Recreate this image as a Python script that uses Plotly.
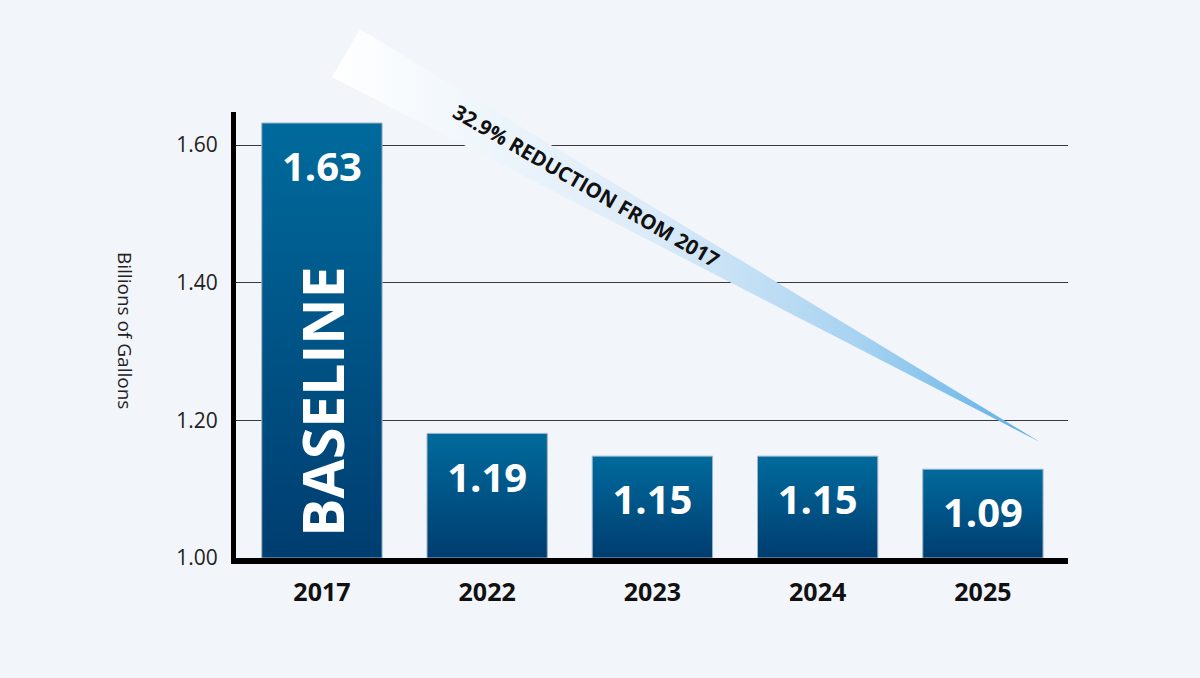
import plotly.graph_objects as go

years = ["2017", "2022", "2023", "2024", "2025"]
bar_heights = [1.632, 1.181, 1.148, 1.148, 1.129]   # bar tops as drawn
bar_labels = ["1.63", "1.19", "1.15", "1.15", "1.09"]
y_ticks = [1.00, 1.20, 1.40, 1.60]
arrow_text = "32.9% REDUCTION FROM 2017"
baseline_text = "BASELINE"

BG = "#f2f5f9"
FONT = "Open Sans"
W, H = 1200, 678
# the page comes out 13px shorter than asked, so ask for a bit more
H_REQ = H + 13
base = 1.0
half_w = 0.364

fig = go.Figure()

# bars as filled rectangles so each gets its own vertical gradient
for i, h in enumerate(bar_heights):
    fig.add_trace(go.Scatter(
        x=[i - half_w, i + half_w, i + half_w, i - half_w, i - half_w],
        y=[base, base, h, h, base],
        mode="lines", fill="toself",
        line=dict(color="#9fb3c9", width=1),
        fillgradient=dict(type="vertical",
                          colorscale=[[0, "#003d70"], [1, "#006a9c"]]),
        hoverinfo="skip", showlegend=False,
    ))

# value labels near the top of each bar
fig.add_trace(go.Scatter(
    x=list(range(len(years))), y=[h - 0.07 for h in bar_heights],
    mode="text", text=bar_labels,
    textfont=dict(family=FONT, size=40, color="white", weight="bold"),
    hoverinfo="skip", showlegend=False,
))

# decorative wedge on a pixel-space overlay
fig.add_trace(go.Scatter(
    x=[360, 1040, 332, 360], y=[29, 442, 77, 29],
    xaxis="x2", yaxis="y2",
    mode="lines", fill="toself", line=dict(width=0, color="rgba(0,0,0,0)"),
    fillgradient=dict(type="horizontal",
                      colorscale=[[0, "#ffffff"], [0.45, "#dcebf8"],
                                  [0.75, "#a6d2f1"], [1, "#5aaee6"]]),
    hoverinfo="skip", showlegend=False,
))

fig.add_annotation(
    x=586, y=185, xref="x2", yref="y2", text=arrow_text, showarrow=False,
    textangle=30, font=dict(family=FONT, size=20.5, color="#111", weight="bold"),
)

fig.add_annotation(
    x=0, y=1.227, xref="x", yref="y", text=baseline_text, showarrow=False,
    textangle=-90, font=dict(family=FONT, size=57, color="white", weight="bold"),
)

fig.add_annotation(
    x=125 / W, y=1 - 330 / H, xref="paper", yref="paper",
    xanchor="center", yanchor="middle",
    text="Billions of Gallons", showarrow=False, textangle=90,
    font=dict(family=FONT, size=19, color="#222"),
)

fig.update_layout(
    width=W, height=H_REQ,
    margin=dict(l=0, r=0, t=0, b=0),
    paper_bgcolor=BG, plot_bgcolor="rgba(0,0,0,0)",
    xaxis=dict(
        domain=[236 / W, 1068 / W], range=[-0.52, 4.515],
        tickvals=list(range(len(years))), ticktext=years,
        showgrid=False, zeroline=False,
        showline=True, linecolor="black", linewidth=6,
        tickfont=dict(family=FONT, size=25, color="#111", weight="bold"),
        ticklabelstandoff=7,
    ),
    yaxis=dict(
        domain=[1 - 558 / H, 1 - 112 / H], range=[1.0, 1.648],
        tickvals=y_ticks, tickformat=".2f",
        showgrid=True, gridcolor="#3a3a3a", gridwidth=1, zeroline=False,
        showline=True, linecolor="black", linewidth=5,
        tickfont=dict(family=FONT, size=21, color="#222"),
        ticklabelstandoff=9,
    ),
    xaxis2=dict(domain=[0, 1], range=[0, W], visible=False, anchor="y2"),
    yaxis2=dict(domain=[0, 1], range=[H, 0], visible=False, anchor="x2"),
)

fig.write_html("out.html", config={"displayModeBar": False},
               post_script="document.body.style.margin='0';")
